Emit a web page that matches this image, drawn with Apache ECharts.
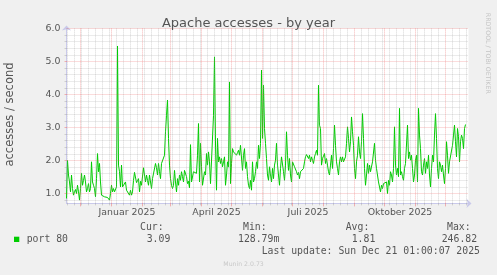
<!DOCTYPE html>
<html><head><meta charset="utf-8">
<script src="https://cdn.jsdelivr.net/npm/echarts@6/dist/echarts.min.js"></script>
<style>html,body{margin:0;padding:0;background:#f0f0f0}#c{width:497px;height:275px}</style>
</head><body><div id="c"></div>
<script>
// ---- data ----
const startDate = [2024, 10, 17];           // first day of the 400-day window (local midnight)
const spanDays = 402;
const accesses = [
0.85,2.00,1.56,1.35,1.05,1.56,1.15,0.95,1.05,1.12,
1.00,1.25,1.05,0.80,1.15,1.61,1.25,1.40,1.56,1.35,
1.05,1.15,1.30,1.05,1.15,1.96,1.35,1.25,1.15,0.90,
1.45,2.21,1.66,1.91,1.35,0.95,0.90,0.92,0.90,0.85,
0.90,0.88,0.85,0.80,1.00,1.25,1.05,1.15,1.05,1.05,
1.20,5.47,1.86,1.66,1.20,1.86,1.20,1.25,1.17,1.35,
1.10,1.10,1.05,0.95,1.10,0.95,1.05,1.40,1.64,1.61,
1.33,1.35,1.45,1.05,1.37,1.25,1.25,1.78,1.56,1.35,
1.56,1.40,1.25,1.56,1.51,1.15,1.45,1.50,1.51,1.91,
1.78,1.56,1.91,1.66,1.45,1.91,1.90,1.96,2.16,2.87,
3.37,3.83,2.67,1.86,1.45,1.25,1.15,1.25,1.70,1.35,
1.05,1.45,1.25,1.56,1.40,1.66,1.51,1.35,1.70,1.66,
1.51,1.30,1.37,1.17,2.48,1.35,1.30,1.66,1.64,1.68,
1.61,2.16,3.12,1.35,2.52,1.81,1.25,1.25,1.66,1.56,
2.21,1.86,2.26,1.96,1.30,1.25,1.30,3.37,5.14,2.50,
1.10,2.67,1.96,2.11,1.91,2.06,1.81,1.96,2.11,1.25,
1.56,1.96,1.80,4.38,1.30,1.91,2.36,2.26,2.21,2.28,
2.16,2.24,2.31,2.16,2.46,2.52,1.70,2.16,2.36,1.76,
1.96,1.51,1.25,1.15,1.40,1.10,1.96,1.35,1.45,1.66,
1.96,1.76,2.46,2.06,2.52,4.74,2.67,4.28,2.97,2.52,
2.06,1.56,1.40,1.81,1.56,1.35,1.76,1.45,1.86,2.01,
2.52,1.86,1.56,1.25,1.76,2.11,2.16,1.66,1.40,1.86,
2.87,2.16,1.70,2.06,1.56,1.35,1.96,1.91,1.81,1.76,
1.66,1.56,1.64,1.45,1.66,1.70,1.61,1.76,1.96,2.11,
2.18,2.21,2.06,2.16,1.96,2.11,2.01,1.91,2.11,2.21,
2.31,2.16,4.28,3.07,2.97,1.86,2.06,2.11,2.21,1.91,
2.06,1.86,1.66,1.56,1.86,2.16,1.76,2.36,3.07,2.46,
1.96,1.76,1.56,1.96,2.11,1.96,2.11,1.96,1.91,2.11,
2.52,3.02,2.67,2.26,2.57,3.32,2.87,2.46,1.76,1.45,
1.96,2.16,2.72,2.26,2.06,2.57,3.42,2.67,1.76,1.25,
1.56,1.91,1.61,1.86,1.66,1.61,1.96,2.01,2.52,2.01,
1.76,1.70,1.35,1.30,1.05,1.25,1.15,1.30,1.30,1.25,
1.35,1.00,1.40,1.25,1.66,1.56,1.35,1.76,3.02,1.86,
1.56,1.76,1.51,3.58,1.56,1.66,1.51,1.40,1.76,1.91,
1.86,3.07,2.06,2.26,2.01,2.16,1.76,1.35,1.56,2.01,
2.16,1.35,3.58,2.77,2.36,1.66,1.56,1.86,2.06,1.61,
1.96,1.76,2.16,1.56,1.20,1.76,2.16,1.96,2.77,3.42,
2.67,1.76,1.45,1.96,1.86,1.66,1.86,1.56,1.30,1.76,
2.57,2.16,1.61,1.96,1.96,2.01,2.46,2.77,3.07,2.57,
2.11,2.97,2.72,1.96,2.57,2.77,2.67,2.36,2.97,3.09
];
const yTickValues = [1, 2, 3, 4, 5, 6];
const xTickLabels = ['Januar 2025', 'April 2025', 'Juli 2025', 'Oktober 2025'];
const xLabelMonths = [[2025, 0], [2025, 3], [2025, 6], [2025, 9]];
const titleText = 'Apache accesses - by year';
const yAxisName = 'accesses / second';
const seriesName = 'port 80';
const statNames = ['Cur:', 'Min:', 'Avg:', 'Max:'];
const statValues = ['3.09', '128.79m', '1.81', '246.82'];
const lastUpdate = 'Last update: Sun Dec 21 01:00:07 2025';
const sideText = 'RRDTOOL / TOBI OETIKER';
const footerText = 'Munin 2.0.73';

// ---- helpers ----
const DAY = 86400000;
const t0 = Date.UTC(startDate[0], startDate[1], startDate[2]);
const dayOf = (y, m, d) => Math.round((Date.UTC(y, m, d) - t0) / DAY);
const monthDays = [];
for (let y = 2024, m = 11; ; m++) {
  if (m > 11) { m = 0; y++; }
  const d = dayOf(y, m, 1);
  if (d > spanDays) break;
  monthDays.push(d);
}
const weekDays = [];
for (let d = dayOf(2024, 10, 18); d <= spanDays; d += 7) weekDays.push(d);
const labelDays = xLabelMonths.map(([y, m]) => (dayOf(y, m, 1) + dayOf(y, m + 1, 1)) / 2);
const minorY = [];
for (let k = 4; k <= 29; k++) { if (k % 5) minorY.push(k / 5); }

const minorColor = 'rgba(150,150,150,0.38)';
const majorColor = 'rgba(235,80,80,0.4)';
const axisColor = '#c9c9ea';
const textColor = '#555';
const sans = 'DejaVu Sans';
const mono = 'DejaVu Sans Mono';

function gridSeries(lines, color, z) {
  return {
    type: 'line', data: [], z: z, silent: true,
    markLine: {
      silent: true, symbol: ['none', 'none'], animation: false,
      label: { show: false }, emphasis: { disabled: true },
      lineStyle: { color: color, type: [1, 1], width: 1 },
      data: lines
    }
  };
}

const chart = echarts.init(document.getElementById('c'), null, { renderer: 'canvas' });
const txt = (text, x, y, size, family, color, extra) => Object.assign({
  type: 'text', x: x, y: y, silent: true,
  style: { text: text, fontSize: size, fontFamily: family, fill: color,
           align: 'left', textAlign: 'left', verticalAlign: 'middle', textVerticalAlign: 'middle' }
}, extra || {});

const statX = [140, 243, 345.7, 447];
const valX = [146.7, 238, 351.7, 441.7];

chart.setOption({
  animation: false,
  backgroundColor: '#f0f0f0',
  title: {
    text: titleText, left: 'center', top: 12,
    textStyle: { fontSize: 13, fontWeight: 'normal', color: textColor, fontFamily: sans }
  },
  grid: {
    left: 66.5, top: 28.5, width: 402, height: 174.9,
    show: true, backgroundColor: '#ffffff', borderWidth: 0
  },
  xAxis: [{
    type: 'value', min: 0, max: spanDays,
    splitLine: { show: false },
    axisLine: { show: true, lineStyle: { color: axisColor, width: 1 },
                symbol: ['none', 'arrow'], symbolSize: [7, 5], symbolOffset: [0, 3] },
    axisTick: { show: true, customValues: monthDays, length: 3, lineStyle: { color: majorColor } },
    axisLabel: {
      customValues: labelDays, margin: 5,
      formatter: v => { const i = labelDays.indexOf(v); return i >= 0 ? xTickLabels[i] : ''; },
      fontSize: 9.4, fontFamily: sans, color: textColor
    }
  }, {
    type: 'value', min: 0, max: spanDays, position: 'bottom',
    splitLine: { show: false }, axisLine: { show: false }, axisLabel: { show: false },
    axisTick: { show: true, customValues: weekDays.filter(d => !monthDays.includes(d)), length: 2,
                lineStyle: { color: minorColor } }
  }],
  yAxis: [{
    type: 'value', min: 0.7, max: 6,
    splitLine: { show: false },
    axisLine: { show: true, lineStyle: { color: axisColor, width: 1 },
                symbol: ['none', 'arrow'], symbolSize: [7, 5], symbolOffset: [0, 3] },
    axisTick: { show: true, customValues: yTickValues, length: 2, lineStyle: { color: majorColor } },
    axisLabel: {
      customValues: yTickValues, margin: 6,
      formatter: v => v.toFixed(1),
      fontSize: 9.4, fontFamily: sans, color: textColor
    }
  }, {
    type: 'value', min: 0.7, max: 6, position: 'left',
    splitLine: { show: false }, axisLine: { show: false }, axisLabel: { show: false },
    axisTick: { show: true, customValues: minorY, length: 2, lineStyle: { color: minorColor } }
  }],
  series: [
    gridSeries(
      weekDays.filter(d => !monthDays.includes(d)).map(d => ({ xAxis: d }))
        .concat(minorY.map(v => ({ yAxis: v }))),
      minorColor, 1),
    gridSeries(
      monthDays.map(d => ({ xAxis: d })).concat(yTickValues.map(v => ({ yAxis: v }))),
      majorColor, 2),
    {
      name: seriesName, type: 'line', z: 3,
      data: accesses.map((v, i) => [i, v]),
      showSymbol: false, symbol: 'none',
      lineStyle: { color: '#00cc00', width: 1 },
      itemStyle: { color: '#00cc00' },
      emphasis: { disabled: true }
    }
  ],
  graphic: [
    txt(yAxisName, 10, 114.5, 11.5, sans, textColor,
      { rotation: Math.PI / 2, style: { text: yAxisName, fontSize: 11.5, fontFamily: sans, fill: textColor,
        align: 'center', textAlign: 'center', verticalAlign: 'middle', textVerticalAlign: 'middle' } }),
    txt(sideText, 487.5, 53.3, 6.3, sans, '#c4c4c4',
      { rotation: -Math.PI / 2, style: { text: sideText, fontSize: 6.3, fontFamily: sans, fill: '#c4c4c4',
        align: 'center', textAlign: 'center', verticalAlign: 'middle', textVerticalAlign: 'middle' } }),
    { type: 'rect', shape: { x: 14, y: 236.7, width: 5.3, height: 5.3 }, style: { fill: '#00cc00' }, silent: true },
    txt(seriesName, 26.7, 239.3, 9.8, mono, textColor),
    ...statNames.map((s, i) => txt(s, statX[i], 227.7, 9.8, mono, textColor)),
    ...statValues.map((s, i) => txt(s, valX[i], 239.3, 9.8, mono, textColor)),
    txt(lastUpdate, 261.7, 251.7, 9.8, mono, textColor),
    txt(footerText, 223.3, 264, 6.2, sans, '#c8c8c8')
  ]
});
</script></body></html>
